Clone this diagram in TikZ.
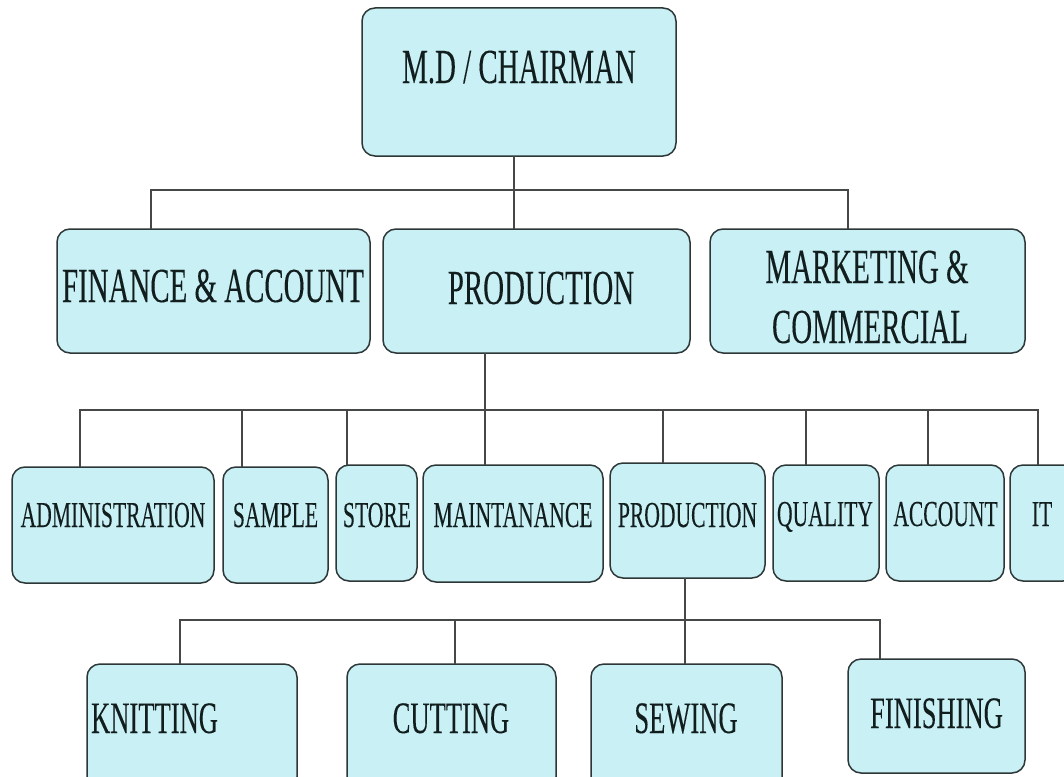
\documentclass[tikz,border=0pt]{standalone}
\usepackage{fontspec}
\setmainfont{Liberation Serif}
% narrow serif face used for every label of the chart
\newfontfamily\orgfont[FakeStretch=0.59, FakeBold=0.15]{Liberation Serif}

\definecolor{boxfill}{RGB}{200,240,245}
\definecolor{boxline}{RGB}{45,55,55}
\definecolor{linkgray}{RGB}{70,72,72}
\definecolor{labeltext}{RGB}{18,30,30}

% \orgbox{name}{left}{top}{right}{bottom}
\newcommand{\orgbox}[5]{%
  \node[box, minimum width={#4-#2}, minimum height={#5-#3}] (#1) at (#2,#3) {};}

\begin{document}
\begin{tikzpicture}[x=1pt, y=-1pt,
  box/.style={draw=boxline, fill=boxfill, line width=1.5pt,
              rounded corners=13pt, inner sep=0pt, outer sep=0pt,
              anchor=north west},
  lbl/.style={anchor=base, inner sep=0pt, text=labeltext},
  bigtxt/.style={font=\orgfont\fontsize{49}{60}\selectfont},
  midtxt/.style={font=\orgfont\fontsize{36.6}{44}\selectfont},
  lowtxt/.style={font=\orgfont\fontsize{45}{54}\selectfont},
  link/.style={draw=linkgray, line width=1.3pt}]

\clip (0,0) rectangle (1064,776);
\fill[white] (0,0) rectangle (1064,776);

% ---- level 1 ----
\orgbox{md}{362}{8}{676}{156}
\node[lbl, bigtxt] (md-t) at (519,83) {M.D / CHAIRMAN};

% ---- level 2 ----
\orgbox{fin}{57}{229}{370}{353}
\orgbox{prod}{383}{229}{690}{353}
\orgbox{mkt}{710}{229}{1025}{353}
\node[lbl, bigtxt] (fin-t)  at (213,302) {FINANCE \& ACCOUNT};
\node[lbl, bigtxt] (prod-t) at (541,304) {PRODUCTION};
\node[lbl, bigtxt] (mkt-a)  at (867,283) {MARKETING \&};
\node[lbl, bigtxt] (mkt-b)  at (870,343) {COMMERCIAL};

% ---- level 3 ----
\orgbox{admin}{12}{467}{214}{583}
\orgbox{sample}{223}{467}{328}{583}
\orgbox{store}{336}{465}{417}{581}
\orgbox{maint}{423}{465}{603}{582}
\orgbox{prodb}{610}{463}{765}{578}
\orgbox{qual}{773}{465}{879}{581}
\orgbox{acct}{886}{465}{1004}{581}
\orgbox{it}{1010}{465}{1076}{581}
\node[lbl, midtxt] (admin-t)  at (113,527) {ADMINISTRATION};
\node[lbl, midtxt] (sample-t) at (275.5,527) {SAMPLE};
\node[lbl, midtxt] (store-t)  at (377,527) {STORE};
\node[lbl, midtxt] (maint-t)  at (513,527) {MAINTANANCE};
\node[lbl, midtxt] (prodb-t)  at (687.5,527) {PRODUCTION};
\node[lbl, midtxt] (qual-t)   at (825,526) {QUALITY};
\node[lbl, midtxt] (acct-t)   at (945.5,526) {ACCOUNT};
\node[lbl, midtxt] (it-t)     at (1042,526) {IT};

% ---- level 4 ----
\orgbox{knit}{87}{664}{297}{790}
\orgbox{cut}{347}{664}{556}{790}
\orgbox{sew}{591}{664}{782}{790}
\orgbox{finish}{848}{659}{1025}{773}
\node[lbl, lowtxt, anchor=base west] (knit-t) at (91,733) {KNITTING};
\node[lbl, lowtxt] (cut-t)    at (451,733) {CUTTING};
\node[lbl, lowtxt] (sew-t)    at (686,733) {SEWING};
\node[lbl, lowtxt] (finish-t) at (936.5,728) {FINISHING};

% ---- connectors: level 1 -> 2 ----
\coordinate (ja) at (151,190);
\coordinate (jb) at (514,190);
\coordinate (jc) at (848,190);
\draw[link] (fin.north -| ja) -- (ja) -- (jc) -- (mkt.north -| jc);
\draw[link] (md.south -| jb) -- (prod.north -| jb);

% ---- connectors: level 2 -> 3 ----
\coordinate (d1) at (80,410);
\coordinate (d2) at (242,410);
\coordinate (d3) at (347,410);
\coordinate (d4) at (485,410);
\coordinate (d5) at (663,410);
\coordinate (d6) at (806,410);
\coordinate (d7) at (928,410);
\coordinate (d8) at (1038,410);
\draw[link] (admin.north -| d1) -- (d1) -- (d8) -- (it.north -| d8);
\draw[link] (prod.south -| d4) -- (maint.north -| d4);
\draw[link] (d2) -- (sample.north -| d2);
\draw[link] (d3) -- (store.north -| d3);
\draw[link] (d5) -- (prodb.north -| d5);
\draw[link] (d6) -- (qual.north -| d6);
\draw[link] (d7) -- (acct.north -| d7);

% ---- connectors: level 3 -> 4 ----
\coordinate (e1) at (180,620);
\coordinate (e2) at (455,620);
\coordinate (e3) at (685,620);
\coordinate (e4) at (880,620);
\draw[link] (knit.north -| e1) -- (e1) -- (e4) -- (finish.north -| e4);
\draw[link] (prodb.south -| e3) -- (sew.north -| e3);
\draw[link] (e2) -- (cut.north -| e2);

\end{tikzpicture}
\end{document}
